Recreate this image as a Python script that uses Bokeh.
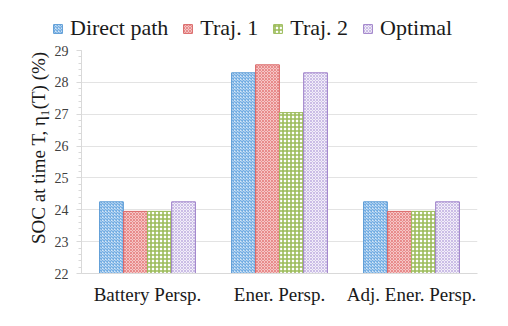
from bokeh.plotting import figure
from bokeh.layouts import column
from bokeh.models import ColumnDataSource, FixedTicker, Legend, LegendItem
from bokeh.transform import dodge
from bokeh.embed import file_html
from bokeh.resources import INLINE

groups = ["Battery Persp.", "Ener. Persp.", "Adj. Ener. Persp."]
series_names = ["Direct path", "Traj. 1", "Traj. 2", "Optimal"]
direct_path = [24.25, 28.30, 24.25]
traj_1 = [23.95, 28.55, 23.95]
traj_2 = [23.95, 27.05, 23.95]
optimal = [24.25, 28.30, 24.25]
y_ticks = [22, 23, 24, 25, 26, 27, 28, 29]

src = ColumnDataSource(dict(g=groups, d=direct_path, t1=traj_1, t2=traj_2, o=optimal))

FONT = "Liberation Serif"
p = figure(x_range=groups, y_range=(22, 29), width=492, height=266,
           output_backend="svg", toolbar_location=None,
           min_border_left=81, min_border_right=15, min_border_top=6, min_border_bottom=37)
p.outline_line_color = None
p.background_fill_color = "white"
p.frame_align = False

styles = [
    ("d", -0.273, dict(fill_color="#d6e7f7", line_color="#5b9bd5", hatch_pattern="diagonal_cross",
                       hatch_color="#74aee3", hatch_scale=3, hatch_weight=1.3)),
    ("t1", -0.091, dict(fill_color="#fbe3e3", line_color="#d96666", hatch_pattern="diagonal_cross",
                        hatch_color="#e88a8a", hatch_scale=3, hatch_weight=1.2)),
    ("t2", 0.091, dict(fill_color="white", line_color="#9bbb59", hatch_pattern="cross",
                       hatch_color="#9bbb59", hatch_scale=4, hatch_weight=1.6)),
    ("o", 0.273, dict(fill_color="#f2eef9", line_color="#9e80c9", hatch_pattern="diagonal_cross",
                      hatch_color="#cbbde6", hatch_scale=3, hatch_weight=1.0)),
]
for col, off, st in styles:
    p.vbar(x=dodge("g", off, range=p.x_range), top=col, bottom=22, width=0.18,
           source=src, line_width=1, **st)

# legend strip above the chart (proxy bars fall outside its y range, so only the legend shows)
lf = figure(x_range=groups, y_range=(100, 101), width=492, height=44, output_backend="svg",
            toolbar_location=None, x_axis_location=None, y_axis_location=None,
            min_border_left=0, min_border_right=0, min_border_top=0, min_border_bottom=0)
lf.outline_line_color = None
lf.grid.visible = False
lf.frame_align = False
leg_renderers = []
for col, off, st in styles:
    leg_renderers.append(lf.vbar(x=dodge("g", off, range=lf.x_range), top=col, bottom=22, width=0.18,
                                 source=src, line_width=1, **st))

legend = Legend(items=[LegendItem(label=n, renderers=[r]) for n, r in zip(series_names, leg_renderers)],
                orientation="horizontal", location=(52, 3))
legend.label_text_font = FONT
legend.label_text_font_size = "22px"
legend.label_text_color = "#1a1a1a"
legend.glyph_width = 11
legend.glyph_height = 11
legend.label_standoff = 7
legend.spacing = 14
legend.padding = 0
legend.margin = 0
legend.border_line_color = None
legend.background_fill_alpha = 0
lf.add_layout(legend, "center")

p.yaxis.ticker = FixedTicker(ticks=y_ticks, minor_ticks=[22 + i * 0.2 for i in range(36)])
p.yaxis.axis_label = "\u00a0" * 6 + "SOC at time T, η₁(T) (%)"
p.yaxis.axis_label_text_font = FONT
p.yaxis.axis_label_text_font_style = "normal"
p.yaxis.axis_label_text_font_size = "19px"
p.yaxis.axis_label_text_color = "#1a1a1a"
p.yaxis.axis_label_standoff = 3
p.yaxis.major_label_text_font = FONT
p.yaxis.major_label_text_font_size = "14px"
p.yaxis.major_label_text_color = "#404040"
p.yaxis.axis_line_color = "#d9d9d9"
p.yaxis.major_tick_line_color = "#d9d9d9"
p.yaxis.minor_tick_line_color = "#d9d9d9"
p.yaxis.major_tick_out = 5
p.yaxis.major_tick_in = 0
p.yaxis.minor_tick_out = 3
p.yaxis.minor_tick_in = 0
p.yaxis.major_label_standoff = 8

p.xaxis.major_label_text_font = FONT
p.xaxis.major_label_text_font_size = "19px"
p.xaxis.major_label_text_color = "#1a1a1a"
p.xaxis.axis_line_color = "#d9d9d9"
p.xaxis.major_tick_line_color = None
p.xaxis.minor_tick_line_color = None
p.xaxis.major_label_standoff = 4

p.xgrid.grid_line_color = None
p.ygrid.grid_line_color = "#e3e3e3"
p.ygrid.grid_line_width = 1

layout = column(lf, p, spacing=0)
open("out.html", "w").write(file_html(layout, INLINE))
